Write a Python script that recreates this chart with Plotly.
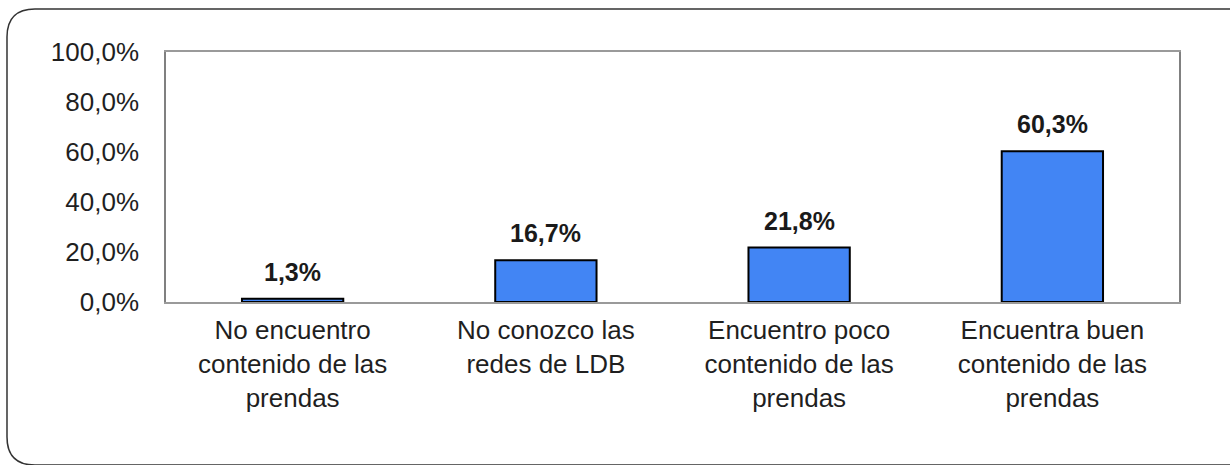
import plotly.graph_objects as go

categories = [
    "No encuentro<br>contenido de las<br>prendas",
    "No conozco las<br>redes de LDB",
    "Encuentro poco<br>contenido de las<br>prendas",
    "Encuentra buen<br>contenido de las<br>prendas",
]
values = [1.3, 16.7, 21.8, 60.3]
value_labels = ["1,3%", "16,7%", "21,8%", "60,3%"]
y_tickvals = [0, 20, 40, 60, 80, 100]
y_ticktext = ["0,0%", "20,0%", "40,0%", "60,0%", "80,0%", "100,0%"]

W, H = 1230, 465
L, R, T, B = 166, 1179, 52, 302  # plot area in pixels

fig = go.Figure()
fig.add_trace(go.Bar(
    x=categories, y=values,
    marker=dict(color="#4285F4", line=dict(color="#000000", width=2)),
    hoverinfo="skip",
))

for c, v, t in zip(categories, values, value_labels):
    fig.add_annotation(
        x=c, y=v, text="<b>" + t + "</b>", showarrow=False,
        yanchor="bottom", yshift=11,
        font=dict(family="Liberation Sans, Arial, sans-serif", size=25, color="#1a1a1a"),
    )

def px2paper(x, y):
    return (x - L) / (R - L), (B - y) / (B - T)

def pt(x, y):
    a, b = px2paper(x, y)
    return f"{a:.5f},{b:.5f}"

r = 28
bot = 465
path = (
    f"M {pt(1245, 9)} L {pt(7 + r, 9)} Q {pt(7, 9)} {pt(7, 9 + r)} "
    f"L {pt(7, bot - r)} Q {pt(7, bot)} {pt(7 + r, bot)} L {pt(1245, bot)}"
)
fig.add_shape(type="path", path=path, xref="paper", yref="paper",
              line=dict(color="#333333", width=1.5), layer="below")

fig.update_layout(
    width=W, height=H,
    margin=dict(l=L, r=W - R, t=T, b=H - B),
    paper_bgcolor="white", plot_bgcolor="white",
    bargap=0.6, showlegend=False,
    font=dict(family="Liberation Sans, Arial, sans-serif", size=26, color="#1f1f1f"),
)
fig.update_xaxes(
    showline=True, linecolor="#9a9a9a", linewidth=1.5, mirror=True,
    showgrid=False, ticks="", tickfont=dict(size=26), ticklabelstandoff=4,
)
fig.update_yaxes(
    range=[0, 100], tickvals=y_tickvals, ticktext=y_ticktext,
    showline=True, linecolor="#808080", linewidth=1.5, mirror=True,
    showgrid=False, zeroline=False, ticks="", tickfont=dict(size=26),
    ticklabelstandoff=20,
)

fig.write_html(
    "out.html",
    config={"displayModeBar": False},
    post_script="document.body.style.margin='0';document.body.style.overflow='hidden';",
)
